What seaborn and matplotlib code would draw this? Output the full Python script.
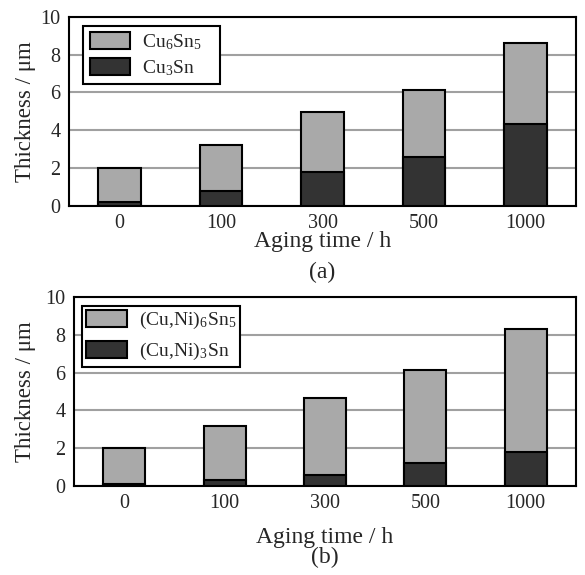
import seaborn as sns
import matplotlib.pyplot as plt
import numpy as np
import pandas as pd

aging_time = ['0', '100', '300', '500', '1000']

# panel (a)
total_a = [2.0, 3.2, 4.95, 6.15, 8.6]
cu3sn_a = [0.2, 0.8, 1.8, 2.6, 4.35]
labels_a = ['Cu$_\\mathregular{6}$Sn$_\\mathregular{5}$', 'Cu$_\\mathregular{3}$Sn']

# panel (b)
total_b = [2.0, 3.2, 4.65, 6.15, 8.3]
cu3sn_b = [0.1, 0.3, 0.6, 1.2, 1.8]
labels_b = ['(Cu,Ni)$_\\mathregular{6}$Sn$_\\mathregular{5}$', '(Cu,Ni)$_\\mathregular{3}$Sn']

LIGHT = '#a9a9a9'
DARK = '#333333'
LW = 1.5

sns.set_style('white')
plt.rcParams['font.family'] = ['Liberation Serif', 'DejaVu Serif']
plt.rcParams['mathtext.fontset'] = 'stix'


def stacked_panel(ax, total, bottom, labels, tag, ylab_x, xlab_y, tag_y,
				  leg_anchor, labelspacing, borderpad, tail=''):
	df = pd.DataFrame({'time': aging_time, 'total': total, 'bottom': bottom})
	sns.barplot(data=df, x='time', y='total', color=LIGHT, edgecolor='black',
				linewidth=LW, width=0.42, saturation=1, ax=ax, zorder=3)
	sns.barplot(data=df, x='time', y='bottom', color=DARK, edgecolor='black',
				linewidth=LW, width=0.42, saturation=1, ax=ax, zorder=3)
	ax.set_ylim(0, 10)
	ax.set_xlim(-0.5, 4.5)
	ax.set_yticks(np.arange(0, 11, 2))
	ax.yaxis.grid(True, color='#a0a0a0', linewidth=1.5, zorder=0)
	ax.set_axisbelow(True)
	for sp in ax.spines.values():
		sp.set_color('black')
		sp.set_linewidth(LW)
	ax.tick_params(axis='both', labelsize=14.5, length=0, pad=6)
	ax.set_xticks([0.5, 1.5, 2.5, 3.5], minor=True)
	ax.tick_params(axis='x', which='minor', direction='in', length=4, color='#555555')
	ax.set_ylabel('Thickness / \u03bcm', fontsize=16.5)
	ax.yaxis.set_label_coords(ylab_x, 0.5)
	ax.set_xlabel('Aging time / h', fontsize=17)
	ax.xaxis.set_label_coords(0.5, xlab_y)
	ax.xaxis.label.set_va('center')
	ax.text(0.5, tag_y, '(' + tag + ')', transform=ax.transAxes, fontsize=17,
			ha='center', va='center')
	handles = [plt.Rectangle((0, 0), 1, 1, facecolor=LIGHT, edgecolor='black', linewidth=LW),
			   plt.Rectangle((0, 0), 1, 1, facecolor=DARK, edgecolor='black', linewidth=LW)]
	leg = ax.legend(handles, [lab + tail for lab in labels], loc='upper left',
					bbox_to_anchor=leg_anchor, fontsize=14, frameon=True,
					fancybox=False, edgecolor='black', framealpha=1,
					handlelength=2.1, handleheight=0.95, handletextpad=0.6,
					labelspacing=labelspacing, borderpad=borderpad,
					borderaxespad=0)
	leg.get_frame().set_linewidth(LW)


fig = plt.figure(figsize=(5.85, 5.75), dpi=100)
ax_a = fig.add_axes([0.118, 0.6417, 0.8667, 0.3292])
ax_b = fig.add_axes([0.1265, 0.1548, 0.858, 0.3287])

stacked_panel(ax_a, total_a, cu3sn_a, labels_a, 'a', -0.065, -0.19, -0.35,
			  (0.0276, 0.952), 0.3, 0.34, tail='   ')
stacked_panel(ax_b, total_b, cu3sn_b, labels_b, 'b', -0.076, -0.27, -0.38,
			  (0.016, 0.952), 0.5, 0.22)

fig.savefig('out.png', dpi=100)
